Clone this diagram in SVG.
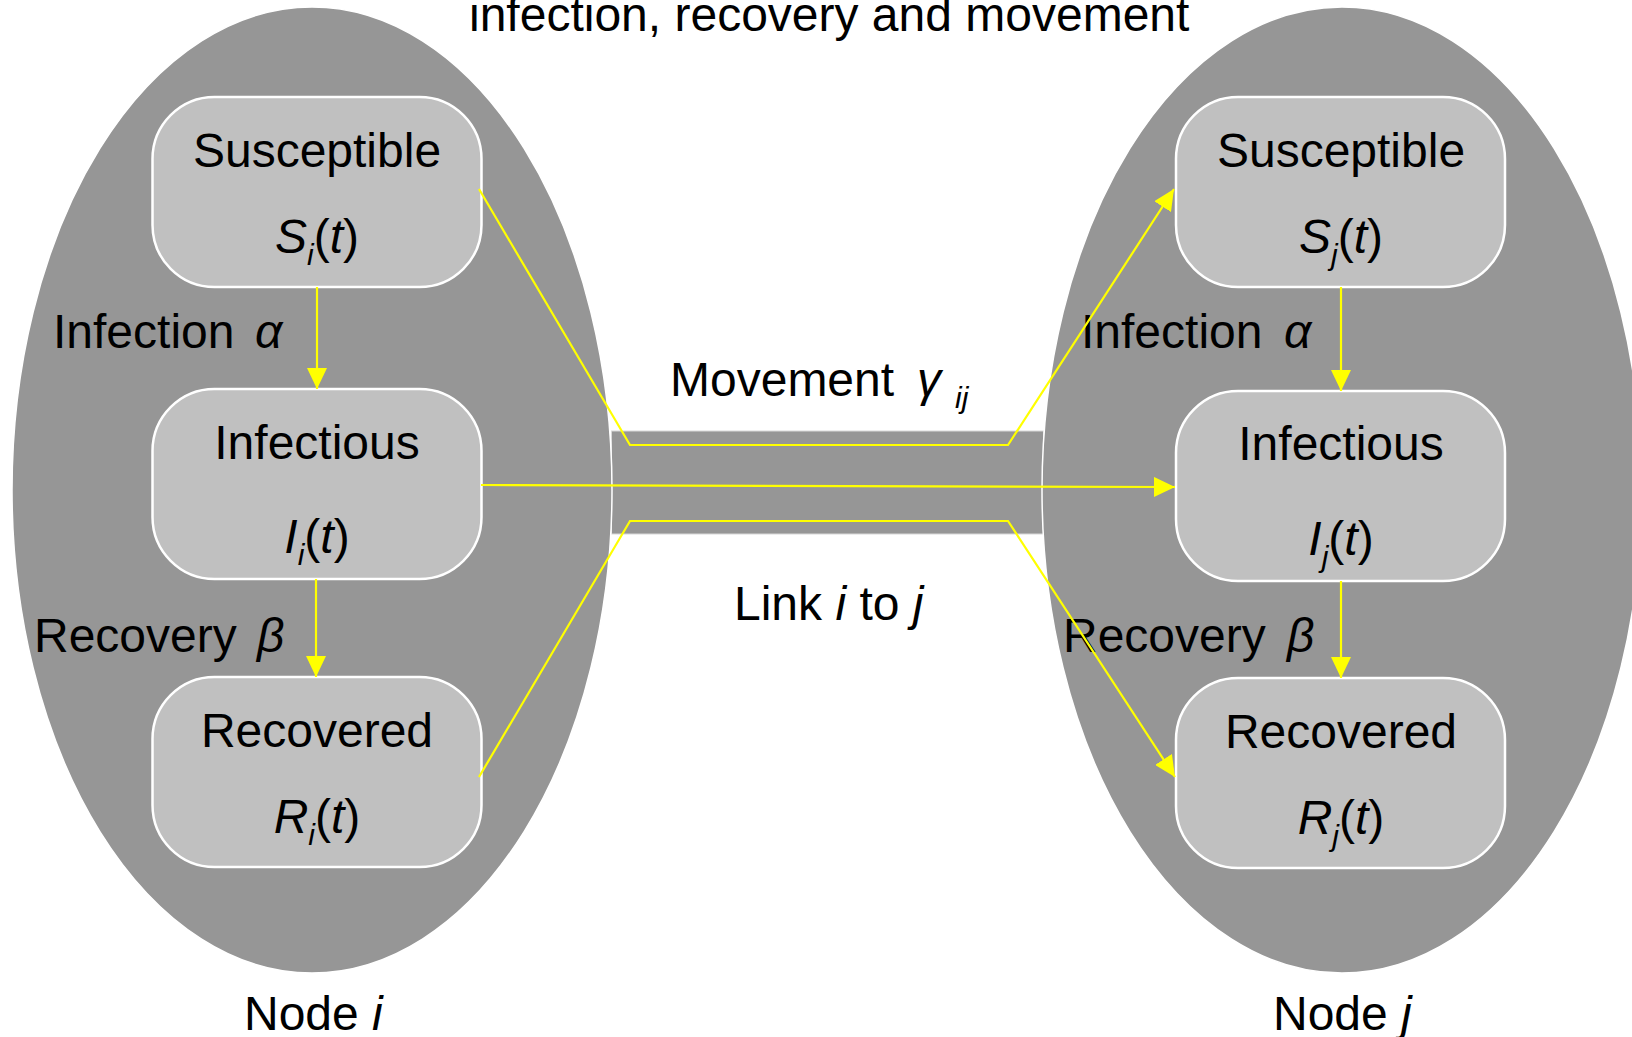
<svg xmlns="http://www.w3.org/2000/svg" width="1632" height="1037" viewBox="0 0 1632 1037">
  <style>
    text { font-family: "Liberation Sans", Arial, sans-serif; font-size: 48px; fill: #000; }
    .it { font-style: italic; }
    .sub { font-size: 30px; font-style: italic; }
    .region { fill: #969696; stroke: #ffffff; stroke-width: 1.5; }
    .box { fill: #c0c0c0; stroke: #ffffff; stroke-width: 2.5; }
    .flow { fill: none; stroke: #ffff00; stroke-width: 2.2; marker-end: url(#arrow); }
  </style>
  <defs>
    <marker id="arrow" viewBox="0 0 21 20" refX="21" refY="10" markerWidth="21" markerHeight="20" markerUnits="userSpaceOnUse" orient="auto">
      <path d="M0,0 L21,10 L0,20 z" fill="#ffff00"/>
    </marker>
  </defs>

  <rect width="1632" height="1037" fill="#ffffff"/>

  <!-- title -->
  <text x="469" y="31">infection, recovery and movement</text>

  <!-- link between the two nodes -->
  <g id="link">
    <rect x="611.5" y="431" width="432" height="103" fill="#969696" stroke="#d8d8d8" stroke-width="1"/>
  </g>

  <!-- node i -->
  <g id="node-i">
    <ellipse class="region" cx="312" cy="490" rx="300" ry="483"/>
    <text x="244" y="1030">Node <tspan class="it">i</tspan></text>
    <g id="S-i">
      <rect class="box" x="152.5" y="97" width="329" height="190" rx="62" ry="62"/>
      <text x="317" y="167" text-anchor="middle">Susceptible</text>
      <text x="317" y="253" text-anchor="middle"><tspan class="it">S</tspan><tspan class="sub" dy="12">i</tspan><tspan dy="-12">(</tspan><tspan class="it">t</tspan>)</text>
    </g>
    <g id="I-i">
      <rect class="box" x="152.5" y="389" width="329" height="190" rx="62" ry="62"/>
      <text x="317" y="459" text-anchor="middle">Infectious</text>
      <text x="317" y="553" text-anchor="middle"><tspan class="it">I</tspan><tspan class="sub" dy="12">i</tspan><tspan dy="-12">(</tspan><tspan class="it">t</tspan>)</text>
    </g>
    <g id="R-i">
      <rect class="box" x="152.5" y="677" width="329" height="190" rx="62" ry="62"/>
      <text x="317" y="747" text-anchor="middle">Recovered</text>
      <text x="317" y="833" text-anchor="middle"><tspan class="it">R</tspan><tspan class="sub" dy="12">i</tspan><tspan dy="-12">(</tspan><tspan class="it">t</tspan>)</text>
    </g>
    <text x="53" y="348">Infection<tspan class="it" x="255">α</tspan></text>
    <text x="34" y="652">Recovery<tspan class="it" x="257">β</tspan></text>
  </g>

  <!-- node j -->
  <g id="node-j">
    <ellipse class="region" cx="1342" cy="490" rx="300" ry="483"/>
    <text x="1273" y="1030">Node <tspan class="it">j</tspan></text>
    <g id="S-j">
      <rect class="box" x="1176" y="97" width="329" height="190" rx="62" ry="62"/>
      <text x="1341" y="167" text-anchor="middle">Susceptible</text>
      <text x="1341" y="253" text-anchor="middle"><tspan class="it">S</tspan><tspan class="sub" dy="12">j</tspan><tspan dy="-12">(</tspan><tspan class="it">t</tspan>)</text>
    </g>
    <g id="I-j">
      <rect class="box" x="1176" y="391" width="329" height="190" rx="62" ry="62"/>
      <text x="1341" y="460" text-anchor="middle">Infectious</text>
      <text x="1341" y="555" text-anchor="middle"><tspan class="it">I</tspan><tspan class="sub" dy="12">j</tspan><tspan dy="-12">(</tspan><tspan class="it">t</tspan>)</text>
    </g>
    <g id="R-j">
      <rect class="box" x="1176" y="678" width="329" height="190" rx="62" ry="62"/>
      <text x="1341" y="748" text-anchor="middle">Recovered</text>
      <text x="1341" y="834" text-anchor="middle"><tspan class="it">R</tspan><tspan class="sub" dy="12">j</tspan><tspan dy="-12">(</tspan><tspan class="it">t</tspan>)</text>
    </g>
    <text x="1081" y="348">Infection<tspan class="it" x="1284">α</tspan></text>
    <text x="1063" y="652">Recovery<tspan class="it" x="1287">β</tspan></text>
  </g>

  <!-- link labels -->
  <text x="670" y="396">Movement<tspan class="it" x="917">γ</tspan><tspan class="sub" x="955" y="408">ij</tspan></text>
  <text x="734" y="620">Link <tspan class="it">i</tspan> to <tspan class="it">j</tspan></text>

  <!-- connectors -->
  <g id="connectors">
    <line class="flow" x1="317" y1="287" x2="317" y2="389"/>
    <line class="flow" x1="316" y1="579" x2="316" y2="677"/>
    <line class="flow" x1="1341" y1="287" x2="1341" y2="391"/>
    <line class="flow" x1="1341" y1="581" x2="1341" y2="678"/>
    <polyline class="flow" points="479,189 630,445 1008,445 1174,189"/>
    <line class="flow" x1="481" y1="485" x2="1175" y2="487"/>
    <polyline class="flow" points="479,777 630,521 1008,521 1175,777"/>
  </g>
</svg>
